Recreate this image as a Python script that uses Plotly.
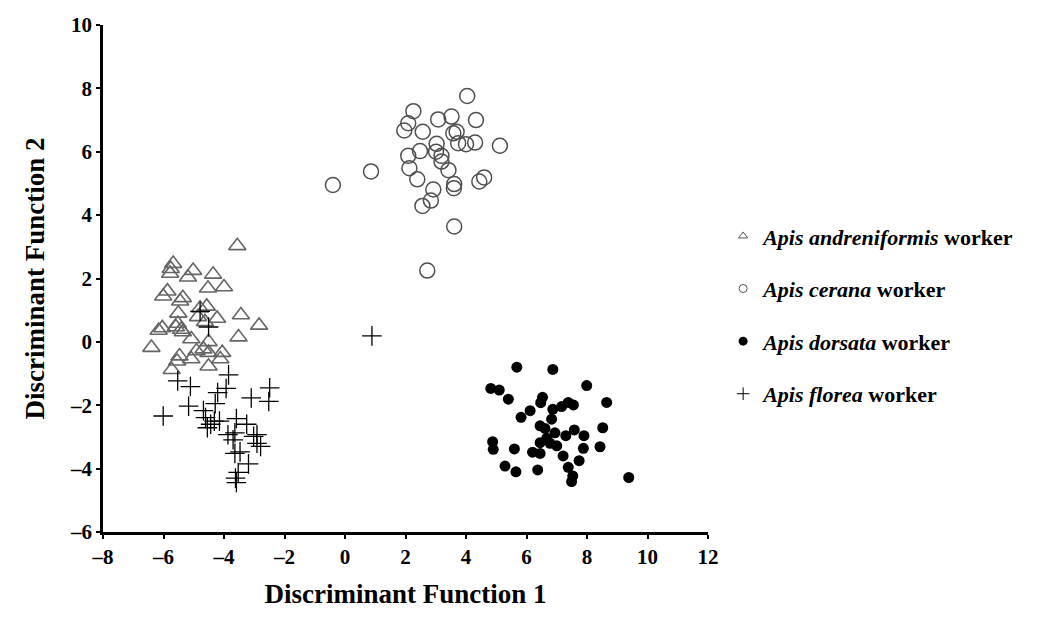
import plotly.graph_objects as go

# Apis andreniformis worker (open triangles)
andre_x = [-3.56, -5.68, -5.76, -5.78, -5.02, -5.19, -4.36, -4.53, -4.00, -5.87, -6.01, -5.36, -5.45, -4.79,
           -4.57, -5.51, -4.86, -4.63, -4.23, -3.44, -2.84, -6.16, -6.04, -5.59, -5.42, -5.53, -5.36, -3.52,
           -5.08, -4.51, -6.40, -4.68, -4.91, -4.51, -4.06, -5.47, -5.55, -5.08, -4.12, -4.51, -5.73]
andre_y = [3.03, 2.47, 2.31, 2.16, 2.25, 2.04, 2.13, 1.69, 1.73, 1.60, 1.44, 1.39, 1.28, 1.06,
           1.12, 0.90, 0.79, 0.63, 0.74, 0.85, 0.52, 0.36, 0.44, 0.47, 0.39, 0.58, 0.31, 0.15,
           0.09, 0.00, -0.18, -0.23, -0.29, -0.34, -0.34, -0.45, -0.61, -0.54, -0.54, -0.77, -0.88]

# Apis cerana worker (open circles)
cerana_x = [4.04, 2.26, 2.09, 1.96, 3.08, 3.52, 4.33, 2.57, 3.58, 3.69, 3.74, 4.00, 4.30, 5.12, 3.03, 3.01,
            2.48, 2.09, 3.19, 3.19, 2.13, 3.42, 2.39, 3.61, 3.60, 4.60, 4.44, 2.92, 2.84, 2.56, 0.86, 3.61,
            2.72, -0.40]
cerana_y = [7.76, 7.28, 6.90, 6.67, 7.02, 7.11, 7.00, 6.63, 6.58, 6.63, 6.27, 6.24, 6.29, 6.19, 6.25, 6.00,
            6.02, 5.87, 5.87, 5.69, 5.48, 5.42, 5.13, 4.98, 4.85, 5.19, 5.06, 4.81, 4.46, 4.29, 5.38, 3.64,
            2.25, 4.95]

# Apis dorsata worker (filled circles)
dorsata_x = [5.68, 6.87, 4.82, 5.10, 7.99, 5.40, 8.65, 6.53, 6.47, 6.12, 5.82, 6.87, 7.16, 7.38, 7.55,
             6.83, 6.45, 6.61, 6.94, 7.58, 7.30, 7.90, 8.52, 6.67, 6.45, 6.78, 7.00, 4.88, 4.90, 5.60,
             6.20, 6.45, 7.88, 8.43, 7.21, 7.74, 5.29, 5.65, 6.37, 7.38, 7.53, 7.49, 9.38]
dorsata_y = [-0.80, -0.87, -1.47, -1.52, -1.38, -1.81, -1.91, -1.75, -1.92, -2.17, -2.38, -2.13, -2.04,
             -1.91, -1.99, -2.44, -2.65, -2.73, -2.87, -2.78, -2.96, -2.96, -2.71, -3.04, -3.18, -3.20,
             -3.28, -3.15, -3.39, -3.38, -3.48, -3.52, -3.36, -3.31, -3.60, -3.75, -3.92, -4.10, -4.04,
             -3.96, -4.23, -4.41, -4.28]

# Apis florea worker (crosses)
florea_x = [-3.85, -5.53, -5.11, -3.93, -4.21, -2.49, -3.10, -2.52, -4.29, -5.17, -6.01, -4.68, -4.61,
            -4.32, -4.15, -4.44, -4.55, -3.59, -3.25, -3.87, -3.64, -3.70, -3.02, -2.91, -2.79, -2.91,
            -3.64, -3.47, -3.19, -3.53, -3.59, -3.62, -4.79, -4.51, 0.89]
florea_y = [-1.04, -1.23, -1.41, -1.47, -1.60, -1.45, -1.77, -1.88, -1.95, -2.03, -2.34, -2.17, -2.39,
            -2.50, -2.50, -2.60, -2.71, -2.42, -2.60, -2.93, -2.87, -3.09, -2.98, -2.93, -3.30, -3.20,
            -3.52, -3.47, -3.85, -4.12, -4.44, -4.30, 0.96, 0.47, 0.19]

species = ["andreniformis", "cerana", "dorsata", "florea"]
x_ticks = [-8, -6, -4, -2, 0, 2, 4, 6, 8, 10, 12]
y_ticks = [-6, -4, -2, 0, 2, 4, 6, 8, 10]

FONT = "Liberation Serif, Times New Roman, serif"

styles = {
    "andreniformis": dict(symbol="triangle-up-open", size=15, color="#666666", line=dict(width=1.6, color="#666666")),
    "cerana": dict(symbol="circle-open", size=15, color="#505050", line=dict(width=1.5, color="#505050")),
    "dorsata": dict(symbol="circle", size=11, color="#000000", line=dict(width=0)),
    "florea": dict(symbol="cross-thin-open", size=14, color="#000000", line=dict(width=1.3, color="#000000")),
}
legend_styles = {
    "andreniformis": dict(symbol="triangle-up-open", size=8, color="#555555", line=dict(width=1, color="#555555")),
    "cerana": dict(symbol="circle-open", size=8, color="#555555", line=dict(width=1, color="#555555")),
    "dorsata": dict(symbol="circle", size=9, color="#000000", line=dict(width=0)),
    "florea": dict(symbol="cross-thin-open", size=9, color="#000000", line=dict(width=1, color="#000000")),
}
data = {
    "andreniformis": (andre_x, andre_y),
    "cerana": (cerana_x, cerana_y),
    "dorsata": (dorsata_x, dorsata_y),
    "florea": (florea_x, florea_y),
}

def lab(v):
    return str(v).replace("-", "\u2013")

fig = go.Figure()
for sp in ["dorsata", "cerana", "andreniformis", "florea"]:
    xs, ys = data[sp]
    fig.add_trace(go.Scatter(x=xs, y=ys, mode="markers", marker=styles[sp],
                             showlegend=False, legendgroup=sp, hoverinfo="x+y"))
for sp in species:
    fig.add_trace(go.Scatter(x=[None], y=[None], mode="markers", marker=legend_styles[sp],
                             name=f"<b><i>Apis {sp}</i> worker</b>", legendgroup=sp, showlegend=True))

tickfont = dict(family=FONT, size=21, color="black", weight="bold")

fig.update_layout(
    width=1051, height=632,
    margin=dict(l=103, r=343, t=25, b=100),
    paper_bgcolor="white", plot_bgcolor="white",
    font=dict(family=FONT, color="black"),
    legend=dict(x=1.025, y=0.625, xanchor="left", yanchor="top",
                font=dict(family=FONT, size=22, color="black"),
                traceorder="grouped", tracegroupgap=21, itemwidth=30,
                bgcolor="rgba(0,0,0,0)"),
    xaxis=dict(range=[-8, 12], tickvals=x_ticks, ticktext=[lab(v) for v in x_ticks],
               showgrid=False, zeroline=False, showline=True, linecolor="black", linewidth=2.5,
               ticks="outside", ticklen=4, tickwidth=2, tickcolor="black",
               tickfont=tickfont,
               title=dict(text="<b>Discriminant Function 1</b>", font=dict(family=FONT, size=27, color="black"),
                          standoff=17)),
    yaxis=dict(range=[-6, 10], tickvals=y_ticks, ticktext=[lab(v) for v in y_ticks],
               showgrid=False, zeroline=False, showline=True, linecolor="black", linewidth=2.5,
               ticks="outside", ticklen=4, tickwidth=2, tickcolor="black",
               tickfont=tickfont,
               title=dict(text="<b>Discriminant Function 2</b>", font=dict(family=FONT, size=27, color="black"),
                          standoff=18)),
)

fig.write_html("out.html")
